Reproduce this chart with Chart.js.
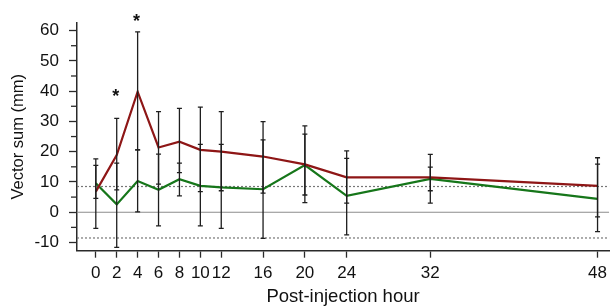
<!DOCTYPE html>
<html><head><meta charset="utf-8">
<script src="https://cdn.jsdelivr.net/npm/chart.js@4/dist/chart.umd.min.js"></script>
<style>html,body{margin:0;padding:0;background:#fff;}#wrap{width:612px;height:306px;}</style>
</head><body><div id="wrap"><canvas id="c" width="612" height="306"></canvas></div>
<script>
// ---- data ----
const hours = [0, 2, 4, 6, 8, 10, 12, 16, 20, 24, 32, 48];
const redMean = [6.8, 18.9, 39.8, 21.4, 23.3, 20.6, 20.0, 18.4, 15.8, 11.5, 11.5, 8.7];
const redLow  = [-5.3, 7.4, 20.6, 9.3, 13.1, 6.8, 7.1, 6.3, 3.2, 3.0, 3.0, -1.5];
const redHigh = [17.6, 31.0, 59.6, 33.2, 34.3, 34.7, 33.2, 29.9, 28.5, 20.3, 19.1, 18.0];
const greenMean = [9.6, 2.6, 10.3, 7.4, 10.9, 8.7, 8.2, 7.6, 15.6, 5.4, 11.0, 4.4];
const greenLow  = [4.6, -11.6, 0.1, -4.5, 5.4, -4.5, -5.3, -8.6, 5.7, -7.5, 7.1, -6.4];
const greenHigh = [15.5, 16.2, 20.6, 19.2, 16.2, 22.4, 22.4, 23.9, 25.8, 17.8, 14.9, 15.9];
const xTickLabels = [0, 2, 4, 6, 8, 10, 12, 16, 20, 24, 32, 48];
const yMajorTicks = [-10, 0, 10, 20, 30, 40, 50, 60];
const yMinorTicks = [-5, 5, 15, 25, 35, 45, 55];
const solidRefLines = [0];
const dashedRefLines = [8.5, -8.5];
const starHours = [2, 4];
const starValues = [39.8, 64.6];

const FONT = "'Liberation Sans', Arial, sans-serif";
const AXIS = '#2a2a2a';

const toPts = (ys) => hours.map((h, i) => ({x: h, y: ys[i]}));

const extrasPlugin = {
  id: 'extras',
  beforeDatasetsDraw(chart) {
    const {ctx, chartArea: a, scales: {y}} = chart;
    ctx.save();
    ctx.lineWidth = 1.2;
    ctx.strokeStyle = '#8c8c8c';
    solidRefLines.forEach(v => {
      const py = y.getPixelForValue(v);
      ctx.beginPath(); ctx.moveTo(a.left, py); ctx.lineTo(a.right, py); ctx.stroke();
    });
    ctx.setLineDash([2, 2]);
    ctx.strokeStyle = '#777';
    dashedRefLines.forEach(v => {
      const py = y.getPixelForValue(v);
      ctx.beginPath(); ctx.moveTo(a.left, py); ctx.lineTo(a.right, py); ctx.stroke();
    });
    ctx.restore();
  },
  afterDatasetsDraw(chart) {
    const {ctx, scales: {x, y}} = chart;
    ctx.save();
    ctx.strokeStyle = '#1e1e1e';
    ctx.lineWidth = 1.3;
    const bars = [[redLow, redHigh], [greenLow, greenHigh]];
    bars.forEach(([lo, hi]) => {
      hours.forEach((h, i) => {
        const px = x.getPixelForValue(h);
        const p1 = y.getPixelForValue(lo[i]);
        const p2 = y.getPixelForValue(hi[i]);
        ctx.beginPath();
        ctx.moveTo(px, p1); ctx.lineTo(px, p2);
        ctx.moveTo(px - 2.5, p1); ctx.lineTo(px + 2.5, p1);
        ctx.moveTo(px - 2.5, p2); ctx.lineTo(px + 2.5, p2);
        ctx.stroke();
      });
    });
    ctx.restore();
  },
  afterDraw(chart) {
    const {ctx, chartArea: a, scales: {x, y}} = chart;
    ctx.save();
    // minor y ticks
    ctx.strokeStyle = AXIS; ctx.lineWidth = 1.3;
    yMinorTicks.forEach(v => {
      const py = y.getPixelForValue(v);
      ctx.beginPath(); ctx.moveTo(a.left - 6, py); ctx.lineTo(a.left, py); ctx.stroke();
    });
    // significance stars
    ctx.fillStyle = '#111';
    ctx.font = 'bold 18px ' + FONT;
    ctx.textAlign = 'center';
    ctx.textBaseline = 'alphabetic';
    starHours.forEach((h, i) => {
      ctx.fillText('*', x.getPixelForValue(h) - 1, y.getPixelForValue(starValues[i]) + 10);
    });
    ctx.restore();
  }
};

new Chart(document.getElementById('c'), {
  type: 'line',
  data: {
    datasets: [
      {label: 'Red', data: toPts(redMean), borderColor: '#8e1616', borderWidth: 2.2,
       pointRadius: 0, tension: 0, fill: false},
      {label: 'Green', data: toPts(greenMean), borderColor: '#16761a', borderWidth: 2.2,
       pointRadius: 0, tension: 0, fill: false}
    ]
  },
  options: {
    responsive: false,
    animation: false,
    devicePixelRatio: 1,
    layout: {padding: {top: 22.7, right: 0, bottom: 0, left: 0}},
    plugins: {legend: {display: false}, tooltip: {enabled: false}},
    scales: {
      x: {
        type: 'linear', min: -1.8, max: 49.1,
        afterBuildTicks: s => { s.ticks = xTickLabels.map(v => ({value: v})); },
        afterFit: s => { s.height = 55.3; },
        ticks: {autoSkip: false, maxRotation: 0, color: '#111', padding: 5,
                font: {family: FONT, size: 17}, callback: v => String(v)},
        grid: {drawOnChartArea: false, drawTicks: true, tickLength: 7, tickColor: AXIS, tickWidth: 1.3},
        border: {display: true, color: AXIS, width: 1.5},
        title: {display: true, text: 'Post-injection hour', color: '#111',
                font: {family: FONT, size: 18.5}, padding: {top: 0, bottom: -2}}
      },
      y: {
        type: 'linear', min: -12.7, max: 62.6,
        afterBuildTicks: s => { s.ticks = yMajorTicks.map(v => ({value: v})); },
        afterFit: s => { s.width = 77; },
        ticks: {color: '#111', padding: 10, font: {family: FONT, size: 17}},
        grid: {drawOnChartArea: false, drawTicks: true, tickLength: 8, tickColor: AXIS, tickWidth: 1.3},
        border: {display: true, color: AXIS, width: 1.5},
        title: {display: true, text: 'Vector sum (mm)', color: '#111',
                font: {family: FONT, size: 16.5}, padding: {top: 9, bottom: 0}}
      }
    }
  },
  plugins: [extrasPlugin]
});
</script></body></html>
